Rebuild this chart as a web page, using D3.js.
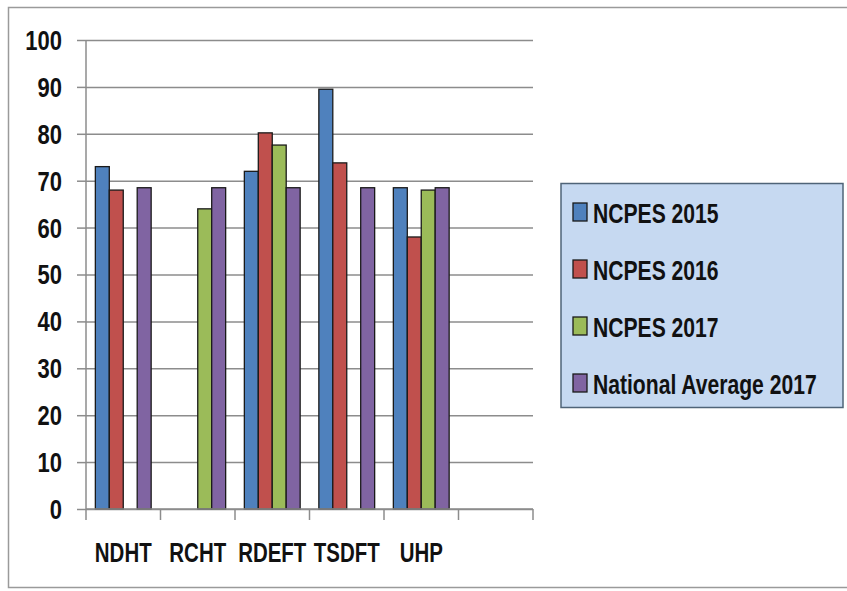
<!DOCTYPE html>
<html>
<head>
<meta charset="utf-8">
<script src="https://cdn.jsdelivr.net/npm/d3@7"></script>
<style>
  body { margin: 0; background: #fff; }
  svg { display: block; }
  text { font-family: "Liberation Sans", Arial, sans-serif; font-weight: bold; fill: #111; }
</style>
</head>
<body>
<svg id="chart"></svg>
<script>
// categories (last slot is empty on the original axis)
const categories = ["NDHT", "RCHT", "RDEFT", "TSDFT", "UHP", ""];
const seriesNames = ["NCPES 2015", "NCPES 2016", "NCPES 2017", "National Average 2017"];
const ncpes2015 = [73, null, 72, 89.5, 68.5];
const ncpes2016 = [68, null, 80.2, 73.8, 58];
const ncpes2017 = [null, 64, 77.6, null, 68];
const nationalAvg2017 = [68.5, 68.5, 68.5, 68.5, 68.5];
const yTicks = [0, 10, 20, 30, 40, 50, 60, 70, 80, 90, 100];
const colors = ["#4f81bd", "#c0504d", "#9bbb59", "#8064a2"];

const width = 847, height = 591;
const marginLeft = 86, plotRight = 533; // plot area
const yTop = 40, yBottom = 509;
// the original picture is condensed and stretched vertically
const fontSize = 22;
const sy = 1.26;

const allSeries = [ncpes2015, ncpes2016, ncpes2017, nationalAvg2017];

const svg = d3.select("#chart")
  .attr("width", width)
  .attr("height", height)
  .attr("viewBox", [0, 0, width, height]);

// outer frame
svg.append("rect")
  .attr("x", 8.5).attr("y", 7.5)
  .attr("width", 850).attr("height", 580)
  .attr("fill", "#fff")
  .attr("stroke", "#9a9a9a")
  .attr("stroke-width", 1.5);

const x = d3.scaleBand(categories, [marginLeft, plotRight]);
const xInner = d3.scaleBand(seriesNames, [0, x.bandwidth()]).paddingInner(0).paddingOuter(0.67);
const y = d3.scaleLinear([0, 100], [yBottom, yTop]);

// gridlines + y ticks
const yAxis = d3.axisLeft(y).tickValues(yTicks).tickSize(9).tickFormat(d3.format("d"));
svg.append("g")
  .attr("transform", `translate(${marginLeft},0)`)
  .call(yAxis)
  .call(g => g.select(".domain").remove())
  .call(g => g.selectAll(".tick line").attr("stroke", "#8c8c8c").attr("stroke-width", 1.5))
  .call(g => g.selectAll(".tick line").clone()
    .attr("x1", 0)
    .attr("x2", plotRight - marginLeft))
  .call(g => g.selectAll(".tick text").remove());

// y tick labels (stretched)
svg.append("g")
  .selectAll("text")
  .data(yTicks)
  .join("text")
  .attr("transform", d => `translate(62,${y(d)}) scale(1,${sy})`)
  .attr("text-anchor", "end")
  .attr("dy", "0.36em")
  .attr("font-size", fontSize)
  .text(d => d);

// y axis line
svg.append("line")
  .attr("x1", marginLeft).attr("x2", marginLeft)
  .attr("y1", yTop).attr("y2", yBottom)
  .attr("stroke", "#8c8c8c").attr("stroke-width", 1.5);

//bars
const groups = svg.append("g")
  .selectAll("g")
  .data(allSeries)
  .join("g")
  .attr("fill", (d, i) => colors[i]);

groups.selectAll("rect")
  .data((vals, si) => vals.map((v, ci) => ({ v, ci, si })).filter(d => d.v !== null))
  .join("rect")
  .attr("x", d => x(categories[d.ci]) + xInner(seriesNames[d.si]))
  .attr("y", d => y(d.v))
  .attr("width", xInner.bandwidth())
  .attr("height", d => y(0) - y(d.v))
  .attr("stroke", "#1a1a1a")
  .attr("stroke-width", 1.3);

// x axis
const xTickPos = categories.map(c => x(c)).concat([plotRight]);
const xg = svg.append("g");
xg.append("line")
  .attr("x1", marginLeft).attr("x2", plotRight)
  .attr("y1", yBottom).attr("y2", yBottom)
  .attr("stroke", "#8c8c8c").attr("stroke-width", 1.5);
xg.selectAll("line.tick")
  .data(xTickPos)
  .join("line")
  .attr("class", "tick")
  .attr("x1", d => d).attr("x2", d => d)
  .attr("y1", yBottom).attr("y2", yBottom + 11)
  .attr("stroke", "#8c8c8c").attr("stroke-width", 1.5);
xg.selectAll("text")
  .data(categories)
  .join("text")
  .attr("transform", d => `translate(${x(d) + x.bandwidth() / 2},552) scale(0.93,${sy})`)
  .attr("text-anchor", "middle")
  .attr("dy", "0.36em")
  .attr("font-size", fontSize)
  .text(d => d);

// legend
const legend = svg.append("g");
legend.append("rect")
  .attr("x", 561).attr("y", 183.5)
  .attr("width", 282).attr("height", 224)
  .attr("fill", "#c6d9f1")
  .attr("stroke", "#4f6478")
  .attr("stroke-width", 1.5);

const legendY = d3.scalePoint(seriesNames, [212, 383]);
const items = legend.selectAll("g.item")
  .data(seriesNames)
  .join("g")
  .attr("class", "item")
  .attr("transform", d => `translate(573,${legendY(d)})`);
items.append("rect")
  .attr("x", 0).attr("y", -9)
  .attr("width", 14).attr("height", 18)
  .attr("fill", (d, i) => colors[i])
  .attr("stroke", "#1a1a1a")
  .attr("stroke-width", 1.3);
items.append("text")
  .attr("transform", `translate(20,1) scale(0.96,${sy})`)
  .attr("dy", "0.36em")
  .attr("font-size", fontSize)
  .text(d => d);
</script>
</body>
</html>
